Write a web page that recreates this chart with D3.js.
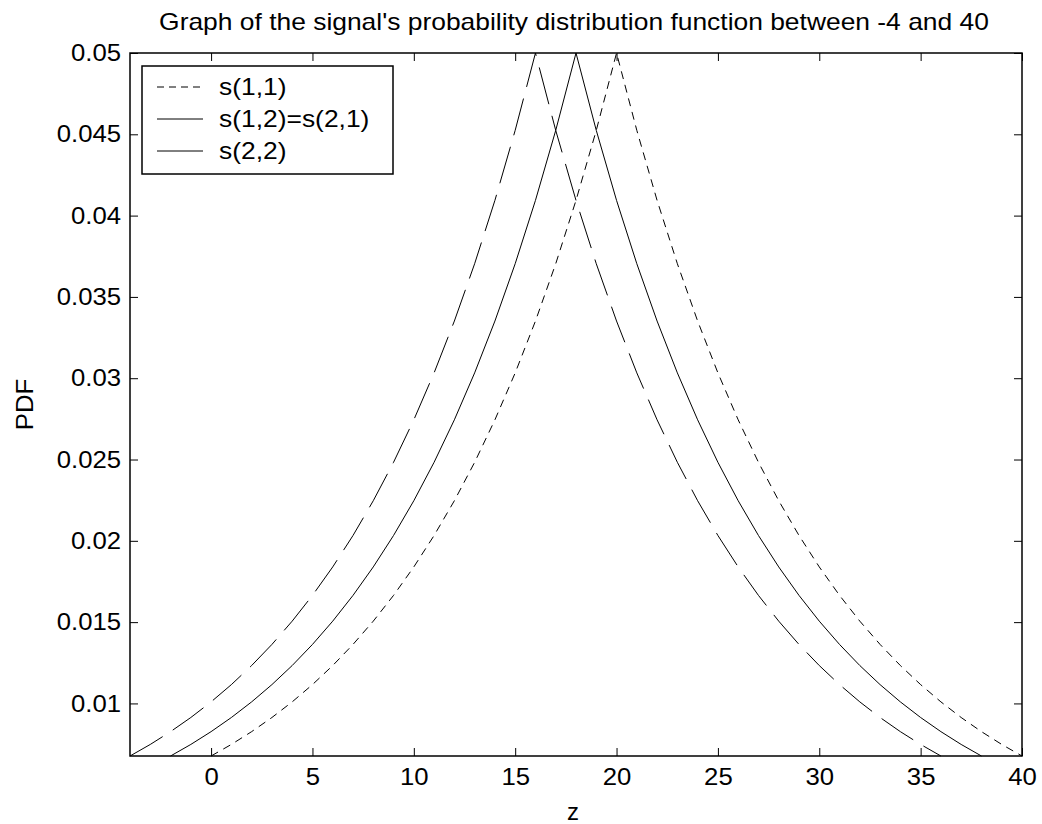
<!DOCTYPE html>
<html>
<head>
<meta charset="utf-8">
<script src="https://cdn.jsdelivr.net/npm/d3@7"></script>
<style>
  html, body { margin: 0; padding: 0; background: #fff; }
  svg { display: block; }
  text { font-family: "Liberation Sans", Arial, Helvetica, sans-serif; fill: #000; }
</style>
</head>
<body>
<svg id="chart" width="1042" height="824"></svg>
<script>
// ---------- data ----------
const zValues = [-4,-3,-2,-1,0,1,2,3,4,5,6,7,8,9,10,11,12,13,14,15,16,17,18,19,20,
                 21,22,23,24,25,26,27,28,29,30,31,32,33,34,35,36,37,38,39,40];

// s(2,2): peak at z = 16
const s22 = [0.006767,0.007478,0.008265,0.009134,0.010095,0.011157,0.012330,0.013627,0.015060,0.016644,
             0.018394,0.020328,0.022466,0.024829,0.027441,0.030327,0.033516,0.037041,0.040937,0.045242,
             0.05,
             0.045242,0.040937,0.037041,0.033516,0.030327,0.027441,0.024829,0.022466,0.020328,0.018394,
             0.016644,0.015060,0.013627,0.012330,0.011157,0.010095,0.009134,0.008265,0.007478,0.006767,
             null,null,null,null];

// s(1,2)=s(2,1): peak at z = 18
const s12 = [null,null,
             0.006767,0.007478,0.008265,0.009134,0.010095,0.011157,0.012330,0.013627,0.015060,0.016644,
             0.018394,0.020328,0.022466,0.024829,0.027441,0.030327,0.033516,0.037041,0.040937,0.045242,
             0.05,
             0.045242,0.040937,0.037041,0.033516,0.030327,0.027441,0.024829,0.022466,0.020328,0.018394,
             0.016644,0.015060,0.013627,0.012330,0.011157,0.010095,0.009134,0.008265,0.007478,0.006767,
             null,null];

// s(1,1): peak at z = 20
const s11 = [null,null,null,null,
             0.006767,0.007478,0.008265,0.009134,0.010095,0.011157,0.012330,0.013627,0.015060,0.016644,
             0.018394,0.020328,0.022466,0.024829,0.027441,0.030327,0.033516,0.037041,0.040937,0.045242,
             0.05,
             0.045242,0.040937,0.037041,0.033516,0.030327,0.027441,0.024829,0.022466,0.020328,0.018394,
             0.016644,0.015060,0.013627,0.012330,0.011157,0.010095,0.009134,0.008265,0.007478,0.006767];

const xTicks = [0,5,10,15,20,25,30,35,40];
const yTicks = [0.01,0.015,0.02,0.025,0.03,0.035,0.04,0.045,0.05];
const xDomain = [-4, 40];
const yDomain = [0.006767, 0.05];

const seriesNames = ["s(1,1)", "s(1,2)=s(2,1)", "s(2,2)"];
const titleText = "Graph of the signal's probability distribution function between -4 and 40";

// ---------- layout ----------
const L = 130, R = 1022, T = 53, B = 756;
const FS = 24;
const svg = d3.select("#chart");

const x = d3.scaleLinear().domain(xDomain).range([L, R]);
const y = d3.scaleLinear().domain(yDomain).range([B, T]);

// curves
const seriesData = [s11, s12, s22];
const dashes = ["8,6", null, "38,12"];
const line = d3.line()
  .defined(d => d.v !== null)
  .x(d => x(d.z))
  .y(d => y(d.v));

const gCurves = svg.append("g");
seriesData.forEach((arr, i) => {
  const pts = zValues.map((z, k) => ({ z: z, v: arr[k] }));
  gCurves.append("path")
    .datum(pts)
    .attr("d", line)
    .attr("fill", "none")
    .attr("stroke", "#000")
    .attr("stroke-width", 1)
    .attr("stroke-dasharray", dashes[i]);
});

// axes
const tickLen = 8;
const axBottom = d3.axisBottom(x).tickValues(xTicks).tickFormat(d3.format("d"))
  .tickSizeInner(-tickLen).tickSizeOuter(0).tickPadding(12);
const axTop = d3.axisTop(x).tickValues(xTicks).tickFormat("")
  .tickSizeInner(-tickLen).tickSizeOuter(0);
const axLeft = d3.axisLeft(y).tickValues(yTicks).tickFormat(d => String(+d.toFixed(3)))
  .tickSizeInner(-tickLen).tickSizeOuter(0).tickPadding(9);
const axRight = d3.axisRight(y).tickValues(yTicks).tickFormat("")
  .tickSizeInner(-tickLen).tickSizeOuter(0);

function styleAxis(g) {
  g.select(".domain").remove();
  g.selectAll(".tick line").attr("stroke", "#000").attr("stroke-width", 1);
  g.selectAll(".tick text").attr("font-size", FS).attr("font-family", "Liberation Sans, Arial, sans-serif")
    .attr("fill", "#000").classed("stretch-tick", true);
}
svg.append("g").attr("transform", `translate(0,${B})`).call(axBottom).call(styleAxis);
svg.append("g").attr("transform", `translate(0,${T})`).call(axTop).call(styleAxis);
svg.append("g").attr("transform", `translate(${L},0)`).call(axLeft).call(styleAxis);
svg.append("g").attr("transform", `translate(${R},0)`).call(axRight).call(styleAxis);

// frame
svg.append("rect")
  .attr("x", L).attr("y", T).attr("width", R - L).attr("height", B - T)
  .attr("fill", "none").attr("stroke", "#000").attr("stroke-width", 1.5);

// title and axis labels
svg.append("text").attr("x", 574).attr("y", 30).attr("class", "stretch-big")
  .attr("text-anchor", "middle").attr("font-size", FS).text(titleText);
svg.append("text").attr("x", 573).attr("y", 820)
  .attr("text-anchor", "middle").attr("font-size", FS).text("z");
svg.append("text")
  .attr("transform", `translate(33,${(T + B) / 2}) rotate(-90)`).attr("class", "stretch-tick")
  .attr("text-anchor", "middle").attr("font-size", FS).text("PDF");

// legend
const lg = svg.append("g");
lg.append("rect").attr("x", 142).attr("y", 66).attr("width", 251).attr("height", 108)
  .attr("fill", "#fff").attr("stroke", "#000").attr("stroke-width", 1.5);
const legendDash = ["7,5", null, null];
seriesNames.forEach((name, i) => {
  const yy = 87 + i * 32;
  lg.append("line").attr("x1", 157).attr("x2", 203).attr("y1", yy).attr("y2", yy)
    .attr("stroke", "#000").attr("stroke-width", 1).attr("stroke-dasharray", legendDash[i]);
  lg.append("text").attr("x", 219).attr("y", yy).attr("dy", "0.35em").attr("class", "stretch-big")
    .attr("font-size", FS).text(name);
});

// widen glyphs slightly to match the reference's wider Helvetica rendering
function stretch(sel, k) {
  sel.each(function () {
    const w = this.getComputedTextLength();
    if (w > 0) {
      d3.select(this).attr("textLength", (w * k).toFixed(1)).attr("lengthAdjust", "spacingAndGlyphs");
    }
  });
}
stretch(svg.selectAll("text.stretch-tick"), 1.07);
stretch(svg.selectAll("text.stretch-big"), 1.1);
</script>
</body>
</html>
